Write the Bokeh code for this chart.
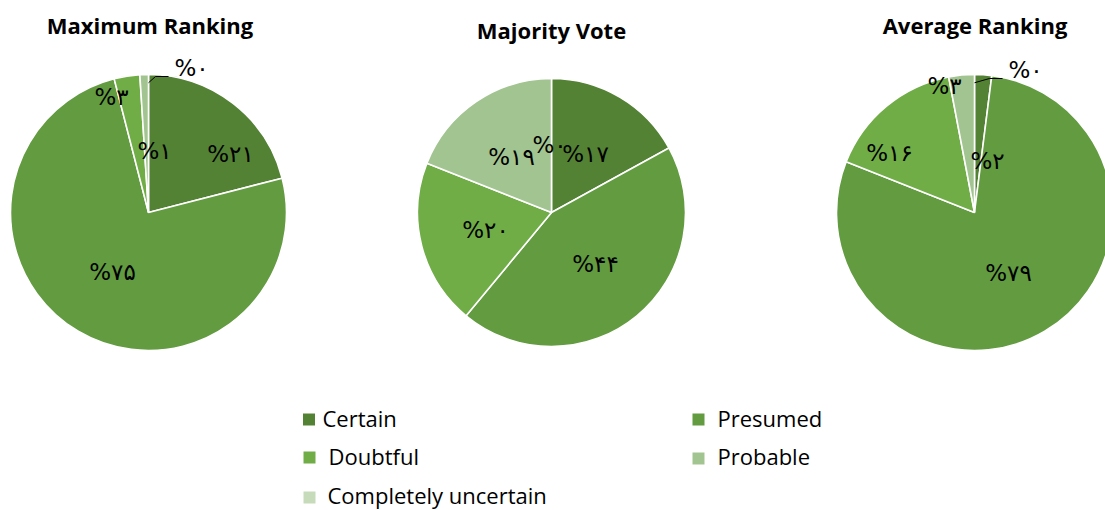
import numpy as np
from bokeh.plotting import figure
from bokeh.models import Range1d, ColumnDataSource
from bokeh.embed import file_html
from bokeh.resources import INLINE
from bokeh.core.properties import value

# ---------------- data ----------------
categories = ["Certain", "Presumed", "Doubtful", "Probable", "Completely uncertain"]
titles = ["Maximum Ranking", "Majority Vote", "Average Ranking"]
max_ranking = [21, 75, 3, 1, 0]
majority_vote = [17, 44, 20, 19, 0]
average_ranking = [2, 79, 16, 3, 0]
series = [max_ranking, majority_vote, average_ranking]

# ---------------- style / layout ----------------
colors = ["#548235", "#629B40", "#70AD47", "#A2C490", "#C5DBB9"]
W, H = 1105, 510
centers = [(148, 212), (551, 212), (974, 212)]      # pixel coords (y down)
radii = [138, 134, 138]
title_pos = [(149.5, 24), (551, 29), (974.5, 24)]    # centre x, middle y
# label offsets from pie centre (pixels, y down), one per category
label_offsets = [
    [(82, -59), (-36, 59), (-37, -116), (6, -62), (43, -145)],
    [(34, -59), (44, 51), (-66, 17), (-40, -56), (-2, -68)],
    [(13, -52), (34, 60), (-85, -60), (-30, -127), (51, -143)],
]
leader_pies = [0, 2]   # pies whose zero slice gets a leader line

# legend layout: (square x, square y, text x, text middle y)
legend_layout = [
    (308.5, 419, 322, 417),
    (698, 419, 717, 417),
    (309, 457, 328, 455),
    (698, 458, 717, 455),
    (309, 497, 327, 494),
]

PERSIAN = str.maketrans("0123456789", "۰۱۲۳۴۵۶۷۸۹")


def Y(ypix):
    return H - ypix


p = figure(width=W, height=H, x_range=Range1d(0, W), y_range=Range1d(0, H),
           output_backend="svg", toolbar_location=None, min_border=0)
p.axis.visible = False
p.grid.visible = False
p.outline_line_color = None
p.background_fill_color = "white"
p.border_fill_color = "white"

for k, vals in enumerate(series):
    cx, cy = centers[k]
    r = radii[k]
    v = np.array(vals, dtype=float)
    frac = v / v.sum()
    cum_end = np.cumsum(frac)
    cum_start = cum_end - frac
    # clockwise from 12 o'clock
    start = np.pi / 2 - 2 * np.pi * cum_end
    end = np.pi / 2 - 2 * np.pi * cum_start
    keep = v > 0
    src = ColumnDataSource(dict(x=[cx] * int(keep.sum()),
                                y=[Y(cy)] * int(keep.sum()),
                                start=start[keep], end=end[keep],
                                color=[c for c, kk in zip(colors, keep) if kk]))
    p.wedge(x="x", y="y", radius=r, start_angle="start", end_angle="end",
            fill_color="color", line_color="white", line_width=1.6, source=src)

    # labels
    lx = [cx + dx for dx, dy in label_offsets[k]]
    ly = [Y(cy + dy) for dx, dy in label_offsets[k]]
    texts = ["%" + str(int(val)).translate(PERSIAN) for val in vals]
    p.text(x=lx, y=ly, text=texts, text_align="center", text_baseline="middle",
           text_font=value("DejaVu Sans"), text_font_size="23px",
           text_color="black")

    # leader line for the zero slice
    if k in leader_pies:
        mid = (start[-1] + end[-1]) / 2
        sx = cx + 0.94 * r * np.cos(mid)
        sy = Y(cy) + 0.94 * r * np.sin(mid)
        ex, ey = lx[-1] - 23, ly[-1] - 9
        p.line(x=[sx, ex - 13, ex], y=[sy, ey, ey], line_color="black",
               line_width=1)

    # title
    tx, ty = title_pos[k]
    p.text(x=[tx], y=[Y(ty)], text=[titles[k]], text_align="center",
           text_baseline="middle", text_font=value("Open Sans"),
           text_font_style="bold", text_font_size="22px", text_color="black")

# legend
for i, cat in enumerate(categories):
    sx, sy, tx, ty = legend_layout[i]
    p.scatter(x=[sx], y=[Y(sy)], marker="square", size=12,
              fill_color=colors[i], line_color=None)
    p.text(x=[tx], y=[Y(ty)], text=[cat], text_align="left",
           text_baseline="middle", text_font=value("Open Sans"),
           text_font_size="22px", text_color="black")

open("out.html", "w").write(file_html(p, INLINE))
